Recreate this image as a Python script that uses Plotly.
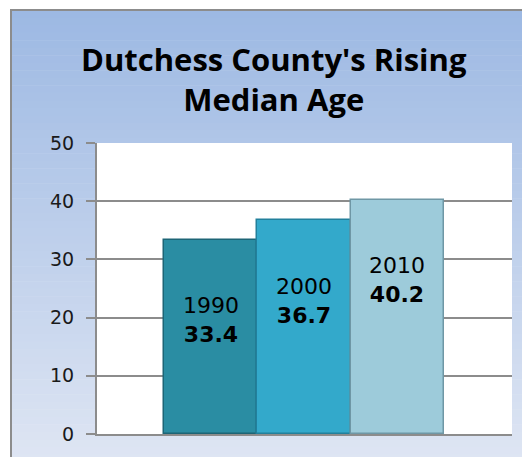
import plotly.graph_objects as go

years = ["1990", "2000", "2010"]
median_age = [33.4, 36.7, 40.2]
bar_colors = ["#2A8DA3", "#33A9CB", "#9DCBDA"]
edge_colors = ["#1D6576", "#22809C", "#6F97A5"]
title_text = "Dutchess County's Rising<br>Median Age"
y_ticks = [0, 10, 20, 30, 40, 50]

OFF = 8  # page body margin
W, H = 530, 457
PL, PR, PT, PB = 97, 512, 143, 434
ml, mt = PL - OFF, PT - OFF
mr = W - (PR - OFF)
mb = H - (PB - OFF)
pw, ph = W - ml - mr, H - mt - mb

def px_x(x):
    return (x - OFF - ml) / pw

def px_y(y):
    return (H - mb - (y - OFF)) / ph

fig = go.Figure()
fig.add_trace(go.Bar(
    x=years, y=median_age,
    marker=dict(color=bar_colors, line=dict(color=edge_colors, width=1.5)),
    width=1.0, showlegend=False, hoverinfo="x+y",
))

shapes = []
top_c = (157, 185, 227)
bot_c = (222, 229, 243)
n = 60
y_top, y_bot = 10, H + 5
for i in range(n):
    t = i / (n - 1)
    c = tuple(int(round(top_c[k] + (bot_c[k] - top_c[k]) * t)) for k in range(3))
    ya = y_top + (y_bot - y_top) * i / n
    yb = y_top + (y_bot - y_top) * (i + 1) / n + 0.5
    shapes.append(dict(type="rect", xref="paper", yref="paper",
                       x0=px_x(11), x1=px_x(W + 20), y0=px_y(yb), y1=px_y(ya),
                       fillcolor="rgb(%d,%d,%d)" % c, line=dict(width=0), layer="below"))
shapes.append(dict(type="rect", xref="paper", yref="paper",
                   x0=px_x(11), x1=px_x(W + 20), y0=px_y(H + 20), y1=px_y(10),
                   fillcolor="rgba(0,0,0,0)", line=dict(color="#8C8C8C", width=2), layer="below"))
shapes.append(dict(type="rect", xref="paper", yref="paper", x0=0, x1=1, y0=0, y1=1,
                   fillcolor="white", line=dict(width=0), layer="below"))

annotations = [dict(text="<b>" + title_text + "</b>", xref="paper", yref="paper",
                    x=px_x(274), y=px_y(79), showarrow=False,
                    font=dict(family="Open Sans", size=31, color="black"),
                    xanchor="center", yanchor="middle")]
for i, (yr, v) in enumerate(zip(years, median_age)):
    annotations.append(dict(text=yr + "<br><b>" + str(v) + "</b>", x=i, y=v - 13.8,
                            xref="x", yref="y", showarrow=False,
                            font=dict(family="DejaVu Sans", size=22, color="black"),
                            xanchor="center", yanchor="middle"))

fig.update_layout(
    width=W, height=H,
    margin=dict(l=ml, r=mr, t=mt, b=mb, pad=0),
    paper_bgcolor="white", plot_bgcolor="rgba(0,0,0,0)",
    bargap=0,
    shapes=shapes, annotations=annotations,
    xaxis=dict(type="category", range=[-1.22, 3.23], showticklabels=False, showgrid=False,
               showline=True, linecolor="#8C8C8C", linewidth=2, zeroline=False,
               ticks="", fixedrange=True),
    yaxis=dict(range=[0, 50], tickvals=y_ticks, showgrid=True, gridcolor="#8C8C8C",
               gridwidth=2, showline=True, linecolor="#8C8C8C", linewidth=2,
               ticks="outside", ticklen=9, tickwidth=2, tickcolor="#8C8C8C",
               tickfont=dict(family="DejaVu Sans", size=19, color="#1A1A1A"),
               zeroline=False, ticklabelstandoff=8),
)

fig.write_html("out.html")
